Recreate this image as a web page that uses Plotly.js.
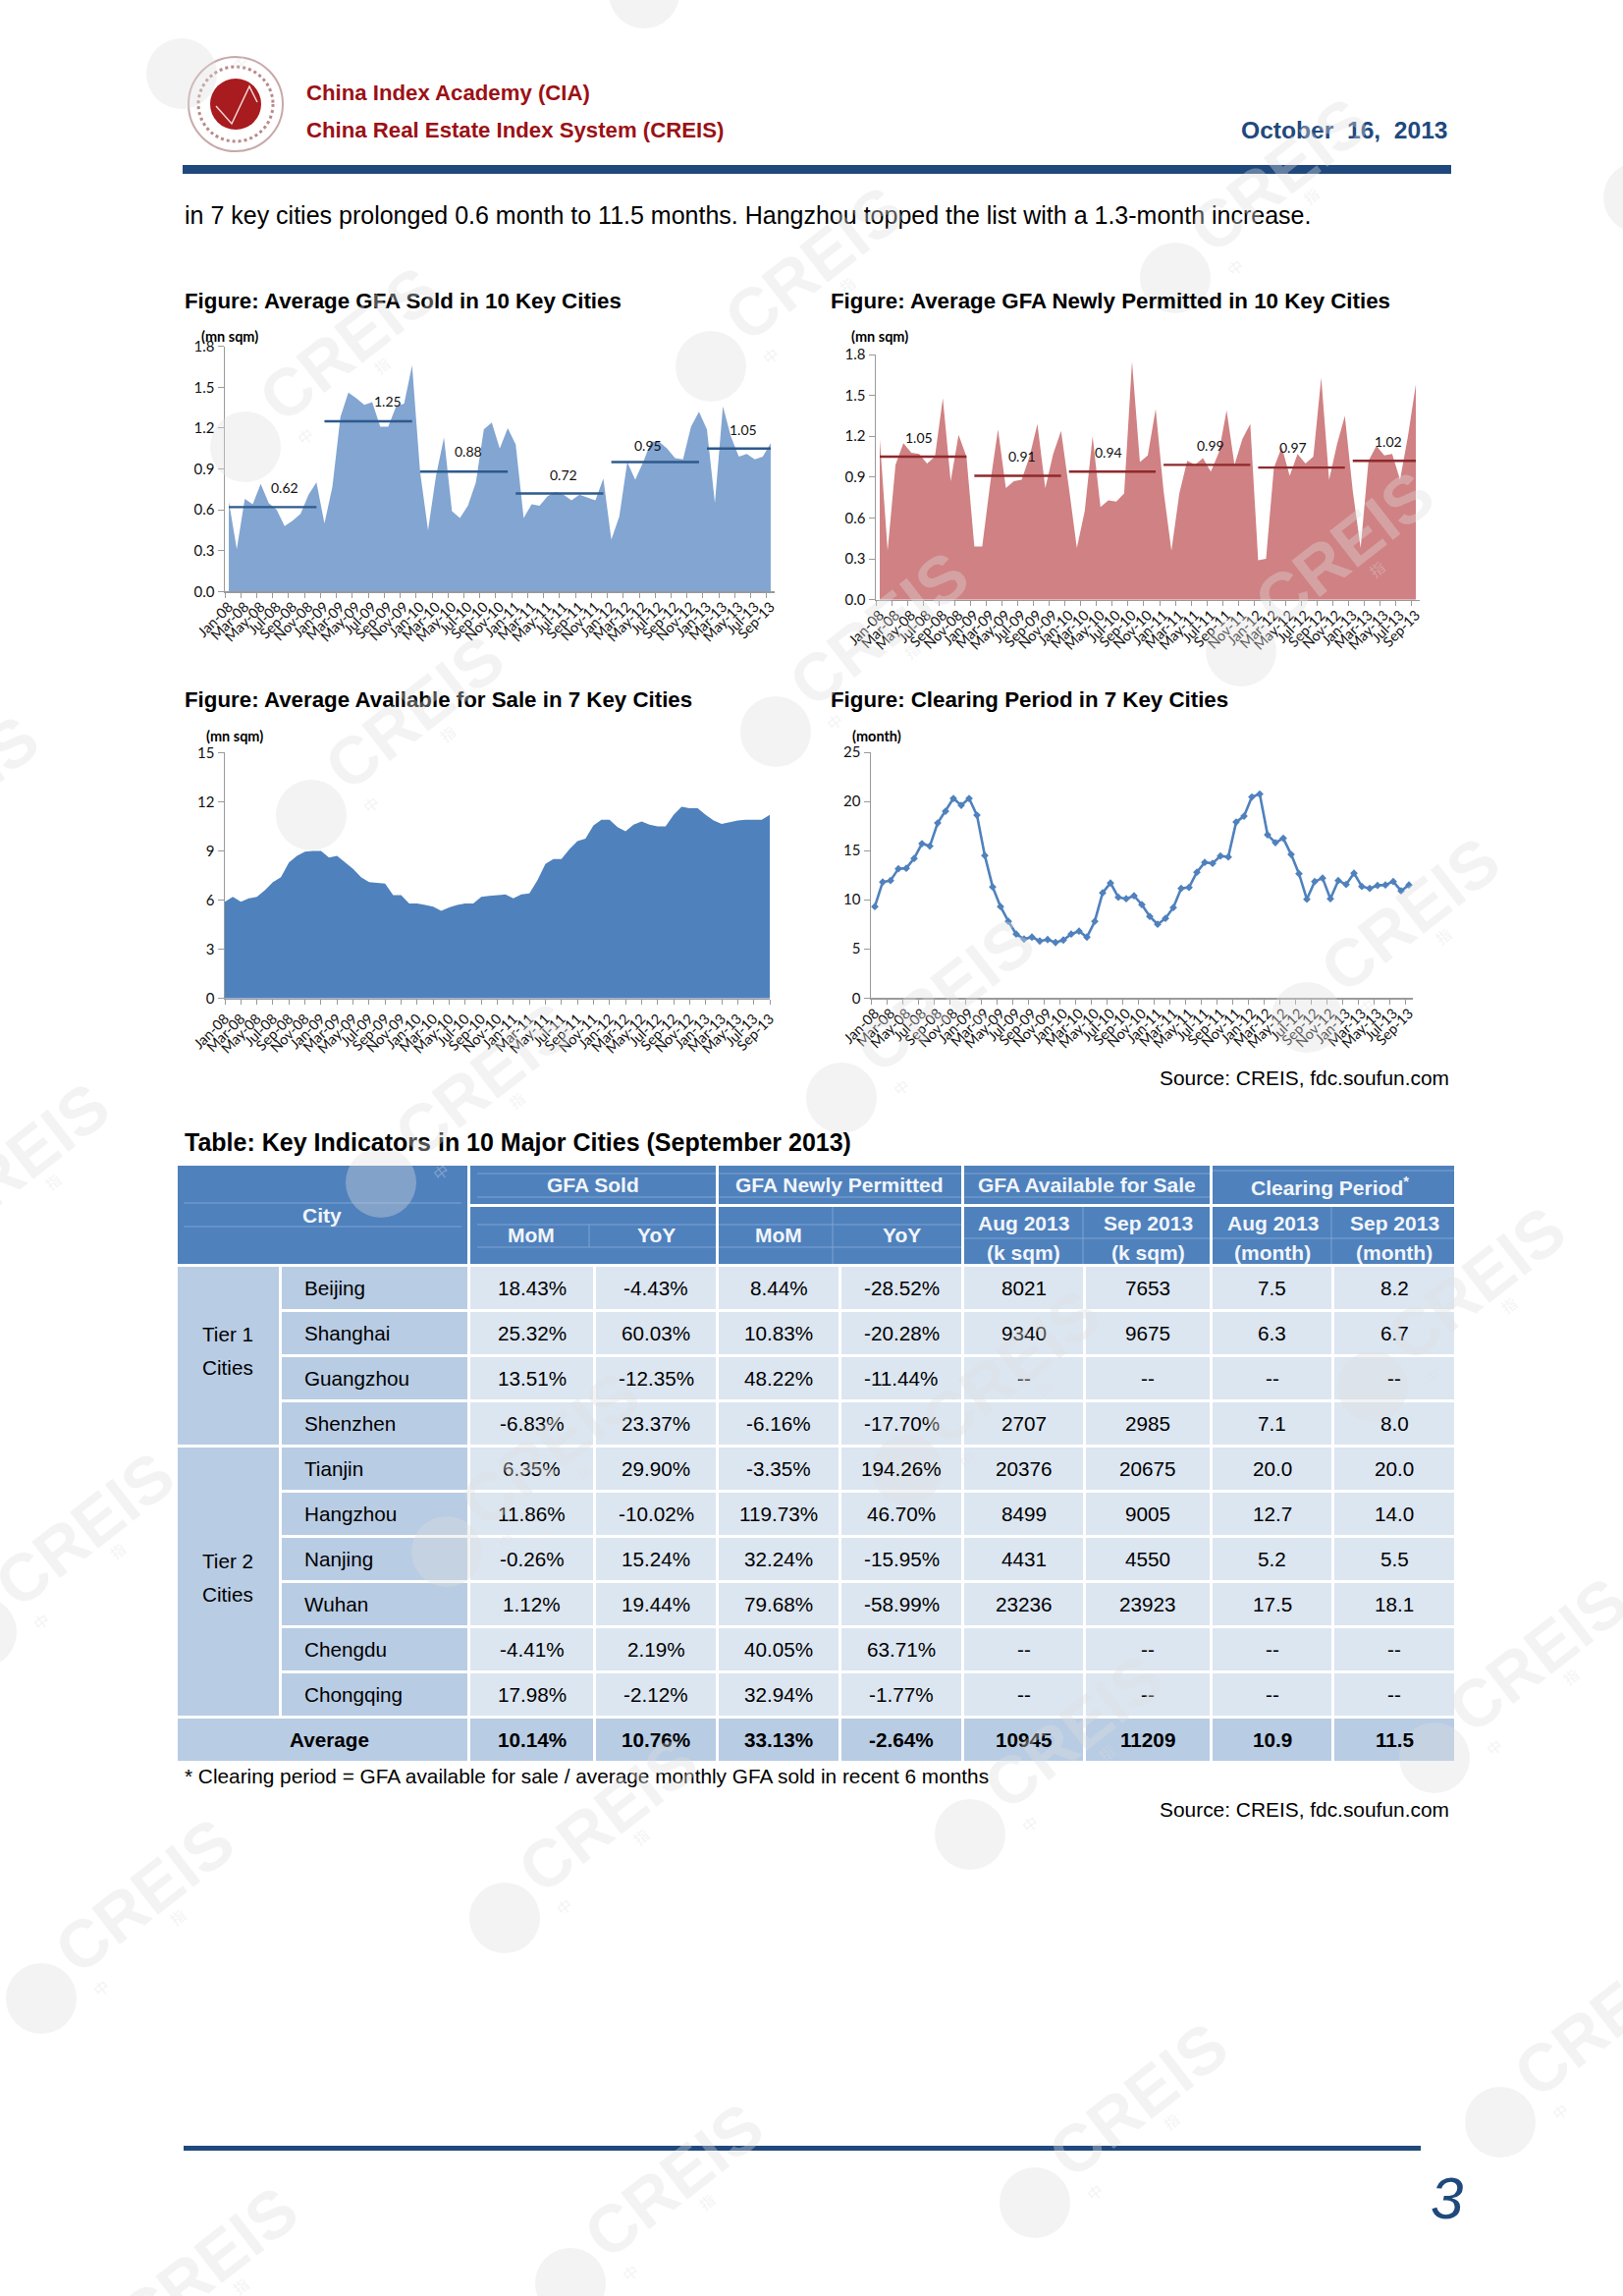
<!DOCTYPE html>
<html><head><meta charset="utf-8">
<script src="https://cdn.plot.ly/plotly-3.0.1.min.js"></script>
<style>html,body{margin:0;padding:0;background:#fff}#page{width:1653px;height:2338px}</style>
</head><body><div id="page"></div>
<script>
// ---------- chart data ----------
const monthLabels = ["Jan-08","Feb-08","Mar-08","Apr-08","May-08","Jun-08","Jul-08","Aug-08","Sep-08","Oct-08","Nov-08","Dec-08",
"Jan-09","Feb-09","Mar-09","Apr-09","May-09","Jun-09","Jul-09","Aug-09","Sep-09","Oct-09","Nov-09","Dec-09",
"Jan-10","Feb-10","Mar-10","Apr-10","May-10","Jun-10","Jul-10","Aug-10","Sep-10","Oct-10","Nov-10","Dec-10",
"Jan-11","Feb-11","Mar-11","Apr-11","May-11","Jun-11","Jul-11","Aug-11","Sep-11","Oct-11","Nov-11","Dec-11",
"Jan-12","Feb-12","Mar-12","Apr-12","May-12","Jun-12","Jul-12","Aug-12","Sep-12","Oct-12","Nov-12","Dec-12",
"Jan-13","Feb-13","Mar-13","Apr-13","May-13","Jun-13","Jul-13","Aug-13","Sep-13"];
const gfaSold = [.66,.31,.68,.64,.79,.65,.60,.48,.52,.57,.71,.80,
.50,.77,1.28,1.46,1.42,1.37,1.39,1.21,1.21,1.36,1.38,1.66,
.88,.45,.85,1.13,.59,.54,.63,.80,1.19,1.24,1.05,1.20,
1.08,.54,.64,.63,.70,.73,.71,.67,.71,.69,.67,.83,
.38,.55,.95,.82,.95,1.10,1.10,1.05,.98,.97,1.21,1.32,
1.19,.65,1.36,1.14,.99,1.01,.97,.99,1.09];
const gfaPermitted = [1.18,.36,.99,1.15,1.08,1.07,1.00,1.05,1.48,.87,1.21,1.05,
.39,.39,.85,1.25,.82,.87,.88,1.05,1.29,.82,1.07,1.24,
.82,.38,.65,1.20,.68,.73,.72,.78,1.75,1.01,1.06,1.40,
.80,.36,.78,1.02,.99,1.04,.94,1.08,1.39,.99,1.18,1.29,
.29,.30,.97,1.12,.91,1.07,1.00,1.05,1.63,.88,1.14,1.35,
.80,.38,1.02,1.13,1.06,1.07,.88,1.20,1.58];
const availableForSale = [5.9,6.2,5.9,6.1,6.2,6.6,7.1,7.4,8.3,8.7,8.95,9.0,
9.0,8.6,8.7,8.3,7.9,7.4,7.1,7.05,7.0,6.3,6.3,5.8,
5.8,5.7,5.6,5.35,5.55,5.7,5.8,5.8,6.2,6.25,6.3,6.35,
6.1,6.35,6.4,7.2,8.2,8.5,8.5,9.1,9.6,9.75,10.55,10.9,
10.9,10.45,10.2,10.6,10.8,10.6,10.5,10.5,11.2,11.7,11.6,11.6,
11.2,10.85,10.65,10.75,10.85,10.9,10.9,10.9,11.2];
const clearingPeriod = [9.3,11.8,11.95,13.15,13.2,14.2,15.7,15.45,17.8,19.0,20.3,19.6,
20.3,18.6,14.5,11.3,9.3,7.8,6.5,6.0,6.2,5.8,5.95,5.65,
5.9,6.5,6.8,6.2,7.8,10.7,11.7,10.25,10.1,10.4,9.5,8.3,
7.5,8.1,9.2,11.15,11.25,12.8,13.8,13.7,14.45,14.35,17.9,18.5,
20.45,20.75,16.6,15.8,16.25,14.6,12.65,10.05,11.85,12.2,10.1,11.95,
11.55,12.7,11.35,11.15,11.45,11.5,11.85,10.9,11.5];
const soldYearAvg = [0.62,1.25,0.88,0.72,0.95,1.05];
const permittedYearAvg = [1.05,0.91,0.94,0.99,0.97,1.02];

// ---------- table data ----------
const tableCities = ["Beijing","Shanghai","Guangzhou","Shenzhen","Tianjin","Hangzhou","Nanjing","Wuhan","Chengdu","Chongqing","Average"];
const soldMoM = ["18.43%","25.32%","13.51%","-6.83%","6.35%","11.86%","-0.26%","1.12%","-4.41%","17.98%","10.14%"];
const soldYoY = ["-4.43%","60.03%","-12.35%","23.37%","29.90%","-10.02%","15.24%","19.44%","2.19%","-2.12%","10.76%"];
const permitMoM = ["8.44%","10.83%","48.22%","-6.16%","-3.35%","119.73%","32.24%","79.68%","40.05%","32.94%","33.13%"];
const permitYoY = ["-28.52%","-20.28%","-11.44%","-17.70%","194.26%","46.70%","-15.95%","-58.99%","63.71%","-1.77%","-2.64%"];
const availAug = ["8021","9340","--","2707","20376","8499","4431","23236","--","--","10945"];
const availSep = ["7653","9675","--","2985","20675","9005","4550","23923","--","--","11209"];
const clearAug = ["7.5","6.3","--","7.1","20.0","12.7","5.2","17.5","--","--","10.9"];
const clearSep = ["8.2","6.7","--","8.0","20.0","14.0","5.5","18.1","--","--","11.5"];

// ---------- page geometry ----------
const W = 1653, H = 2338;
const SANS = '"Liberation Sans", Arial, sans-serif';
const TICKF = 'Lato, "Noto Sans", sans-serif';
const px = x => x / W, py = y => 1 - y / H;
const shapes = [], annotations = [];
function txt(x, y, text, o = {}) {
  annotations.push({xref:'paper', yref:'paper', x:px(x), y:py(y), text, showarrow:false,
    xanchor:o.anchor||'left', yanchor:'middle', textangle:o.angle||0,
    font:{family:o.family||SANS, size:o.size||20, color:o.color||'#000'}});
}
function rect(x0, y0, x1, y1, fill, layer) {
  shapes.push({type:'rect', xref:'paper', yref:'paper', x0:px(x0), x1:px(x1), y0:py(y0), y1:py(y1),
    fillcolor:fill, line:{width:0}, layer:layer||'below'});
}
function hline(x0, y0, x1, y1, color, width) {
  shapes.push({type:'line', xref:'paper', yref:'paper', x0:px(x0), x1:px(x1), y0:py(y0), y1:py(y1),
    line:{color, width:width||1}, layer:'below'});
}
function circle(cx, cy, r, fill, lineColor, lineWidth, dash, layer) {
  shapes.push({type:'circle', xref:'paper', yref:'paper', x0:px(cx-r), x1:px(cx+r), y0:py(cy+r), y1:py(cy-r),
    fillcolor:fill, line:{color:lineColor||'rgba(0,0,0,0)', width:lineWidth||0, dash:dash||'solid'}, layer:layer||'above'});
}

// ---------- subplots ----------
const panels = [
 {n:'',  box:[229,352.7,789,602.3],  yr:[0,1.8], dt:.3, fmt:'.1f', between:true},
 {n:'2', box:[892,361,1446,610.7],   yr:[0,1.8], dt:.3, fmt:'.1f', between:true},
 {n:'3', box:[229,766.3,784,1016.7], yr:[0,15],  dt:3,  fmt:'d',   between:false},
 {n:'4', box:[887,766,1439,1016.3],  yr:[0,25],  dt:5,  fmt:'d',   between:true}
];
const layout = {width:W, height:H, margin:{l:0,r:0,t:0,b:0}, paper_bgcolor:'#fff', plot_bgcolor:'rgba(0,0,0,0)',
  showlegend:false, shapes, annotations, hovermode:false};
panels.forEach(p => {
  const [l,t,r,b] = p.box;
  layout['xaxis'+p.n] = {type:'category', domain:[px(l),px(r)], anchor:'y'+p.n, categoryorder:'array', categoryarray:monthLabels,
    range:p.between?[-0.5,68.5]:[0,68], tickson:p.between?'boundaries':'labels', dtick:2, tickangle:-45, showgrid:false, zeroline:false,
    showline:true, linecolor:'#9a9a9a', linewidth:1.5, ticks:'outside', ticklen:5, tickcolor:'#9a9a9a',
    tickfont:{family:TICKF, size:14.5, color:'#111'}, automargin:false};
  layout['yaxis'+p.n] = {domain:[py(b),py(t)], anchor:'x'+p.n, range:p.yr, dtick:p.dt, tickformat:p.fmt, showgrid:false, zeroline:false,
    showline:true, linecolor:'#9a9a9a', linewidth:1.5, ticks:'outside', ticklen:6, tickcolor:'#9a9a9a',
    tickfont:{family:TICKF, size:15, color:'#111'}, automargin:false};
});
const areaTrace = (y, color, n) => ({type:'scatter', mode:'lines', x:monthLabels, y, fill:'tozeroy', fillcolor:color,
  line:{width:0, color}, xaxis:'x'+n, yaxis:'y'+n, hoverinfo:'skip'});
const yearSlices = [0,12,24,36,48,60,69];
const avgTraces = (avgs, color, n) => avgs.map((v,i) => {
  const xs = monthLabels.slice(yearSlices[i], yearSlices[i+1]);
  return {type:'scatter', mode:'lines', x:xs, y:xs.map(()=>v), line:{color, width:2.4}, xaxis:'x'+n, yaxis:'y'+n, hoverinfo:'skip'};
});
function avgLabels(avgs, where, n) {
  avgs.forEach((v,i) => annotations.push({xref:'x'+n, yref:'y'+n, x:where[i][0], y:where[i][1], text:v.toFixed(2), showarrow:false,
    font:{family:TICKF, size:14, color:'#111'}}));
}
const traces = [
  areaTrace(gfaSold,'#82A5D1',''),
  ...avgTraces(soldYearAvg,'#2E5A8C',''),
  areaTrace(gfaPermitted,'#D08183','2'),
  ...avgTraces(permittedYearAvg,'#8E2A2C','2'),
  areaTrace(availableForSale,'#4F81BD','3'),
  {type:'scatter', mode:'lines+markers', x:monthLabels, y:clearingPeriod, line:{color:'#4F81BD', width:2.6},
   marker:{symbol:'diamond', size:6, color:'#4F81BD'}, xaxis:'x4', yaxis:'y4', hoverinfo:'skip'}
];
avgLabels(soldYearAvg,[[7,.76],[20,1.40],[30,1.03],[42,.86],[52.6,1.07],[64.5,1.19]],'');
avgLabels(permittedYearAvg,[[5,1.19],[18,1.055],[29,1.08],[42,1.135],[52.4,1.12],[64.5,1.165]],'2');

// ---------- page header and titles ----------
const RED = '#9B1115', NAVY = '#1F497D';
circle(240,106,48,'#fff','#c8a9a9',2,'solid','below');
circle(240,106,38,'rgba(0,0,0,0)','#b88a8a',3,'dot','below');
circle(240,106,26,'#A81B1F',null,0,null,'below');
shapes.push({type:'path', xref:'paper', yref:'paper', layer:'below', line:{color:'#f3d7d7',width:1.5},
  path:[[220,108],[236,126],[254,88],[262,104]].map((q,i)=>(i?'L':'M')+px(q[0])+','+py(q[1])).join(' ')});
txt(310,94,'<b>China Index Academy (CIA)</b>',{size:22.2,color:RED});
txt(310,132,'<b>China Real Estate Index System (CREIS)</b>',{size:22.2,color:RED});
txt(1477,133,'<b>October  16,  2013</b>',{size:24.6,color:NAVY,anchor:'right'});
rect(186,168,1478,177,NAVY);
txt(186,219,'in 7 key cities prolonged 0.6 month to 11.5 months. Hangzhou topped the list with a 1.3-month increase.',{size:25});
txt(186,306,'<b>Figure: Average GFA Sold in 10 Key Cities</b>',{size:22.3});
txt(844,306,'<b>Figure: Average GFA Newly Permitted in 10 Key Cities</b>',{size:22.3});
txt(186,713,'<b>Figure: Average Available for Sale in 7 Key Cities</b>',{size:22.3});
txt(844,713,'<b>Figure: Clearing Period in 7 Key Cities</b>',{size:22.3});
txt(203,342,'<b>(mn sqm)</b>',{size:14.5,family:TICKF});
txt(865,342,'<b>(mn sqm)</b>',{size:14.5,family:TICKF});
txt(208,749,'<b>(mn sqm)</b>',{size:14.5,family:TICKF});
txt(866,749,'<b>(month)</b>',{size:14.5,family:TICKF});
txt(1478,1098,'Source: CREIS, fdc.soufun.com',{size:20.9,anchor:'right'});
txt(186,1163,'<b>Table: Key Indicators in 10 Major Cities (September 2013)</b>',{size:25});

// ---------- table ----------
const HEAD = '#4F81BD', MID = '#B8CCE4', LIGHT = '#DCE6F1', HTXT = '#F1F5FA';
rect(181,1187,476,1287,HEAD);
[[479,729],[732,979],[982,1232],[1235,1481]].forEach(c => { rect(c[0],1187,c[1],1226,HEAD); rect(c[0],1229,c[1],1287,HEAD); });
const ghost = '#7FA3D0';
[[187,1225,470,1225],[187,1249,470,1249],[486,1195,729,1195],[486,1219,729,1219],[486,1247,729,1247],[486,1270,729,1270],
 [732,1195,979,1195],[732,1219,979,1219],[732,1247,979,1247],[732,1270,979,1270],[982,1195,1232,1195],[982,1219,1232,1219],
 [982,1261,1232,1261],[1235,1192,1481,1192],[1235,1261,1481,1261],[600,1247,600,1270],[848,1229,848,1287],[1103,1229,1103,1287],[1356,1229,1356,1287]]
 .forEach(g => hline(g[0],g[1],g[2],g[3],ghost,1));
const headSize = 21;
txt(328,1237,'<b>City</b>',{size:headSize,color:HTXT,anchor:'center'});
txt(604,1206,'<b>GFA Sold</b>',{size:headSize,color:HTXT,anchor:'center'});
txt(855,1206,'<b>GFA Newly Permitted</b>',{size:headSize,color:HTXT,anchor:'center'});
txt(1107,1206,'<b>GFA Available for Sale</b>',{size:headSize,color:HTXT,anchor:'center'});
txt(1354,1208,'<b>Clearing Period<sup>*</sup></b>',{size:headSize,color:HTXT,anchor:'center'});
[['MoM',541],['YoY',668],['MoM',793],['YoY',918]].forEach(h => txt(h[1],1257,'<b>'+h[0]+'</b>',{size:headSize,color:HTXT,anchor:'center'}));
[['Aug 2013','(k sqm)',1042],['Sep 2013','(k sqm)',1169],['Aug 2013','(month)',1296],['Sep 2013','(month)',1420]].forEach(h => {
  txt(h[2],1245,'<b>'+h[0]+'</b>',{size:headSize,color:HTXT,anchor:'center'});
  txt(h[2],1275,'<b>'+h[1]+'</b>',{size:headSize,color:HTXT,anchor:'center'});
});
const columns = [[soldMoM,479,604],[soldYoY,607,729],[permitMoM,732,854],[permitYoY,857,979],[availAug,982,1103],[availSep,1106,1232],[clearAug,1235,1356],[clearSep,1359,1481]];
const ROW0 = 1290, PITCH = 46, RH = 43, bodySize = 20.7;
rect(181,ROW0,284,ROW0+4*PITCH-3,MID);
rect(181,ROW0+4*PITCH,284,ROW0+10*PITCH-3,MID);
rect(181,ROW0+10*PITCH,476,ROW0+10*PITCH+RH,MID);
tableCities.forEach((city,r) => {
  const top = ROW0 + r*PITCH, mid = top + RH/2, avg = r === tableCities.length-1;
  if (!avg) { rect(287,top,476,top+RH,MID); txt(308,mid,city,{size:bodySize}); }
  else txt(335,mid,'<b>'+city+'</b>',{size:bodySize,anchor:'center'});
  columns.forEach(c => {
    rect(c[1],top,c[2],top+RH,avg?MID:LIGHT);
    txt((c[1]+c[2])/2,mid,avg?'<b>'+c[0][r]+'</b>':c[0][r],{size:bodySize,anchor:'center'});
  });
});
txt(232,1358,'Tier 1',{size:bodySize,anchor:'center'}); txt(232,1392,'Cities',{size:bodySize,anchor:'center'});
txt(232,1589,'Tier 2',{size:bodySize,anchor:'center'}); txt(232,1623,'Cities',{size:bodySize,anchor:'center'});
txt(186,1808,'* Clearing period = GFA available for sale / average monthly GFA sold in recent 6 months',{size:20.8});
txt(1478,1842,'Source: CREIS, fdc.soufun.com',{size:20.9,anchor:'right'});

// ---------- footer ----------
rect(187,2185,1447,2190,NAVY);
annotations.push({xref:'paper',yref:'paper',x:px(1473),y:py(2238),text:'<i>3</i>',showarrow:false,xanchor:'center',yanchor:'middle',
  font:{family:SANS,size:60,color:NAVY}});

// ---------- watermarks: circle centres on the page's repeating diagonal grid ----------
const WM = 'rgba(222,222,222,0.36)';
const markCentres = [[185,75],[656,-7],[250,455],[724,373],[1197,283],[1669,201],[-157,912],[317,830],[790,745],[1264,663],[1737,581],
 [-85,1286],[388,1204],[857,1118],[1331,1036],[-19,1662],[455,1580],[924,1497],[1398,1412],[42,2035],[514,1953],[988,1868],[1461,1790],
 [107,2410],[581,2325],[1054,2243],[1528,2161]];
markCentres.forEach(c => {
  circle(c[0],c[1],36,WM);
  if (c[0]+105 < W+20 && c[1]-105 > -10 && c[1]-105 < H+10) txt(c[0]+105,c[1]-105,'<b>CREIS</b>',{size:68,color:WM,anchor:'center',angle:-38});
  if (c[0]+60 > 0 && c[0]+60 < W && c[1] < H) txt(c[0]+60,c[1]-11,'中',{size:15,color:WM,anchor:'center',angle:-38,family:'"Noto Sans CJK SC"'});
  if (c[0]+138 > 0 && c[0]+138 < W && c[1]-83 < H && c[1]-83 > 0) txt(c[0]+138,c[1]-83,'指',{size:15,color:WM,anchor:'center',angle:-38,family:'"Noto Sans CJK SC"'});
});

Plotly.newPlot('page', traces, layout, {staticPlot:true, displayModeBar:false});
</script></body></html>
